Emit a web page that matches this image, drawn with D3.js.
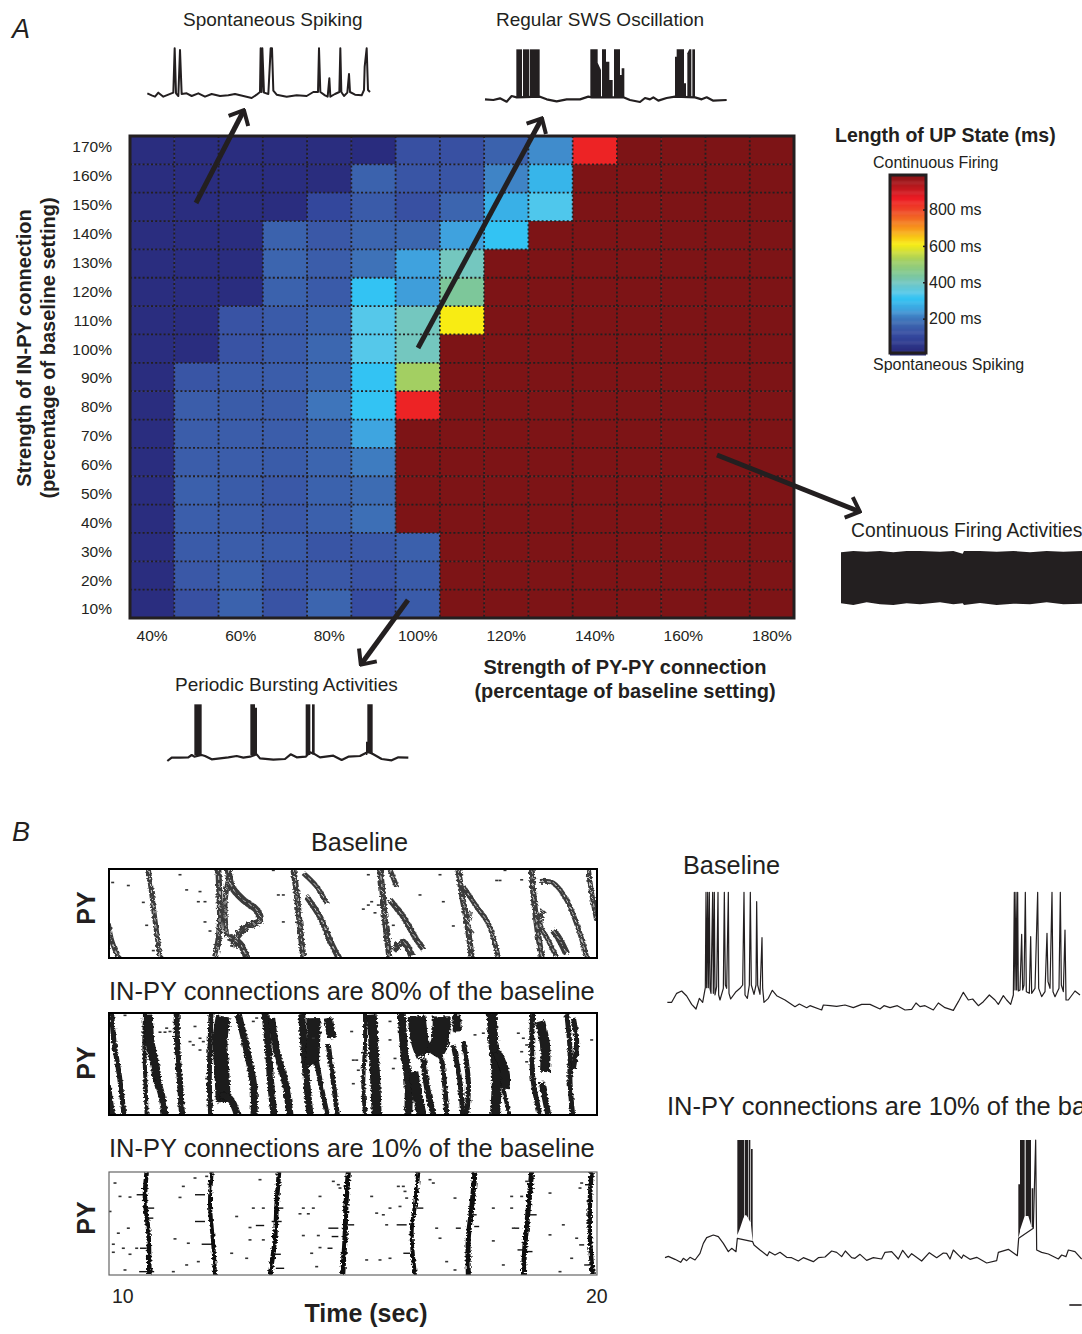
<!DOCTYPE html>
<html lang="en">
  <head>
    <meta charset="utf-8" />
    <script src="https://d3js.org/d3.v7.min.js"></script>
    <style>
      body {
        margin: 0;
        background: #fff;
      }
      svg {
        display: block;
      }
      text {
        font-family: "Liberation Sans", Arial, sans-serif;
        fill: #231f20;
      }
    </style>
  </head>
  <body>
    <svg id="fig" width="1082" height="1334"></svg>
    <script>
      // heatmap: UP state length in ms
      const pyPyLevels = [40, 50, 60, 70, 80, 90, 100, 110, 120, 130, 140, 150, 160, 170, 180];
      const inPyLevels = [170, 160, 150, 140, 130, 120, 110, 100, 90, 80, 70, 60, 50, 40, 30, 20, 10];
      const upStateMs = [
        [30, 30, 30, 30, 30, 22, 125, 125, 160, 225, 850, 1000, 1000, 1000, 1000],
        [30, 30, 30, 30, 25, 160, 135, 135, 215, 285, 1000, 1000, 1000, 1000, 1000],
        [30, 30, 30, 28, 100, 145, 125, 165, 275, 335, 1000, 1000, 1000, 1000, 1000],
        [30, 30, 28, 160, 140, 165, 170, 250, 310, 1000, 1000, 1000, 1000, 1000, 1000],
        [30, 30, 28, 165, 150, 190, 250, 400, 1000, 1000, 1000, 1000, 1000, 1000, 1000],
        [30, 30, 28, 160, 145, 310, 245, 440, 1000, 1000, 1000, 1000, 1000, 1000, 1000],
        [30, 30, 130, 145, 160, 340, 400, 610, 1000, 1000, 1000, 1000, 1000, 1000, 1000],
        [30, 30, 130, 145, 170, 340, 400, 1000, 1000, 1000, 1000, 1000, 1000, 1000, 1000],
        [30, 135, 145, 150, 170, 310, 520, 1000, 1000, 1000, 1000, 1000, 1000, 1000, 1000],
        [30, 150, 148, 150, 195, 310, 850, 1000, 1000, 1000, 1000, 1000, 1000, 1000, 1000],
        [30, 150, 150, 150, 170, 255, 1000, 1000, 1000, 1000, 1000, 1000, 1000, 1000, 1000],
        [30, 150, 150, 148, 165, 205, 1000, 1000, 1000, 1000, 1000, 1000, 1000, 1000, 1000],
        [30, 155, 148, 140, 160, 180, 1000, 1000, 1000, 1000, 1000, 1000, 1000, 1000, 1000],
        [30, 152, 150, 140, 155, 185, 1000, 1000, 1000, 1000, 1000, 1000, 1000, 1000, 1000],
        [30, 145, 150, 145, 135, 140, 155, 1000, 1000, 1000, 1000, 1000, 1000, 1000, 1000],
        [30, 140, 155, 135, 140, 130, 145, 1000, 1000, 1000, 1000, 1000, 1000, 1000, 1000],
        [30, 125, 160, 130, 165, 115, 145, 1000, 1000, 1000, 1000, 1000, 1000, 1000, 1000]
      ];
      const pyPyTicks = [40, 60, 80, 100, 120, 140, 160, 180];
      const colorbarTicks = [200, 400, 600, 800];
      const colorStops = [0, 30, 100, 125, 140, 160, 180, 200, 230, 250, 290, 310, 340, 400, 440, 520, 610, 700, 790, 860, 1000];
      const colorValues = ["#272a7b", "#2a2d7f", "#33479c", "#3850a2", "#3a58a7", "#3b62ad", "#3d6cb3", "#3e78bd", "#4090cf", "#3fa2de", "#36b8ec", "#33c3f3", "#55c8ea", "#74c7bf", "#7dc79a", "#a3cf62", "#f8ec13", "#f7941d", "#ef4a28", "#ed1c24", "#7d1416"];

      const spontaneousTrace = [[22,160],[35,166],[45,170],[55,158],[70,170],[85,164],[100,158],[104,25],[108,160],[115,168],[120,30],[125,162],[140,160],[155,168],[175,160],[195,170],[215,162],[240,168],[265,166],[285,162],[310,168],[335,174],[350,164],[360,156],[362,25],[365,156],[367,25],[372,158],[385,162],[392,25],[396,25],[400,152],[410,164],[440,170],[470,166],[500,168],[520,156],[534,156],[537,25],[541,156],[555,166],[563,170],[568,115],[571,170],[585,162],[598,156],[601,25],[604,156],[612,168],[622,158],[627,102],[630,156],[645,164],[665,166],[672,150],[674,80],[680,25],[684,150],[690,156]];
      const swsTrace = [[15,178],[40,180],[60,175],[80,185],[95,168],[110,172],[180,170],[200,178],[230,184],[260,178],[300,178],[325,170],[335,172],[430,172],[450,180],[480,186],[495,174],[510,178],[520,172],[535,182],[560,174],[585,170],[645,172],[665,178],[680,172],[700,182],[740,180]];
      const swsBursts = [
        [[109,28,172],[126,28,172]],
        [[129,28,172],[147,28,172]],
        [[149,28,172],[179,28,172]],
        [[331,28,172],[353,28,172],[353,68,172],[363,90,172]],
        [[366,28,172],[378,28,172],[378,65,172],[388,65,172],[388,120,172],[398,120,172]],
        [[402,28,172],[420,28,172],[420,105,172],[425,105,172],[425,85,172],[433,85,172]],
        [[585,50,172],[590,50,172],[590,28,172],[612,28,172],[612,130,172],[618,130,172]],
        [[622,40,172],[628,28,172],[634,28,172]],
        [[637,28,172],[645,28,172]]
      ];
      const periodicTrace = [[22,198],[35,188],[60,188],[85,187],[95,180],[103,185],[125,180],[135,183],[155,193],[180,190],[205,187],[230,183],[250,188],[270,185],[290,178],[300,190],[340,194],[375,192],[392,178],[410,187],[437,185],[450,172],[465,178],[480,187],[520,182],[545,195],[565,185],[600,183],[625,170],[640,178],[665,192],[695,196],[715,187],[745,188]];
      const periodicBursts = [
        [[103,28,180],[125,28,180]],
        [[271,28,180],[285,28,180],[285,38,180],[291,38,180]],
        [[437,28,180],[451,28,180]],
        [[456,28,178],[464,28,178]],
        [[618,140,180],[622,140,180],[622,28,175],[638,28,175]]
      ];
      const continuousBlock = [[3,22,175],[40,18,180],[80,20,172],[120,18,178],[160,22,180],[200,18,175],[240,18,178],[300,20,172],[340,18,178],[368,26,175],[372,18,180],[420,18,174],[470,20,180],[520,18,176],[570,22,178],[620,18,172],[670,20,178],[726,18,176]];
      const baselineTrace = [[22,352],[35,352],[50,325],[65,318],[80,333],[95,358],[108,372],[118,340],[128,352],[136,308],[138,22],[140,308],[143,22],[145,308],[148,22],[150,310],[153,325],[158,22],[160,325],[163,22],[165,330],[170,305],[174,22],[176,330],[180,345],[190,310],[193,22],[196,300],[200,310],[205,22],[207,325],[212,342],[228,320],[240,310],[248,300],[252,22],[255,330],[262,340],[268,300],[271,22],[274,300],[282,328],[288,300],[290,50],[293,300],[300,328],[306,158],[308,310],[312,352],[325,340],[337,316],[350,332],[375,345],[405,365],[418,357],[440,368],[450,362],[485,375],[490,360],[510,362],[530,364],[555,360],[580,368],[605,358],[630,358],[660,372],[672,362],[690,368],[712,362],[735,375],[755,373],[768,354],[780,365],[795,362],[820,375],[835,354],[855,368],[880,376],[895,350],[910,322],[925,345],[938,342],[955,362],[970,350],[988,330],[1005,345],[1015,358],[1030,332],[1040,345],[1052,358],[1060,330],[1063,22],[1065,315],[1068,22],[1070,315],[1073,22],[1075,318],[1080,315],[1085,148],[1088,315],[1092,300],[1096,22],[1099,320],[1108,325],[1112,155],[1115,325],[1125,310],[1133,22],[1136,310],[1145,335],[1155,320],[1161,145],[1164,290],[1170,310],[1176,22],[1179,320],[1185,335],[1197,310],[1201,22],[1204,300],[1210,320],[1215,135],[1218,345],[1225,345],[1245,318],[1260,330]];
      const reducedTrace = [[15,368],[25,364],[45,373],[62,382],[70,370],[80,377],[90,367],[105,375],[120,355],[130,325],[140,308],[160,300],[175,305],[190,325],[205,350],[215,340],[228,350],[232,310],[278,320],[282,330],[300,345],[322,362],[328,350],[345,360],[360,352],[380,367],[395,368],[415,378],[430,368],[460,380],[475,368],[495,366],[515,348],[530,352],[545,365],[556,348],[575,368],[585,370],[600,358],[620,376],[640,368],[665,372],[675,352],[695,350],[715,372],[728,346],[745,368],[755,356],[785,378],[808,353],[830,368],[850,354],[860,355],[870,372],[880,345],[905,370],[910,360],[930,373],[950,367],[980,384],[1010,377],[1015,352],[1045,343],[1072,362],[1076,310],[1120,280],[1127,15],[1130,345],[1145,352],[1165,357],[1195,372],[1205,360],[1218,365],[1225,345],[1245,350],[1265,372]];
      const reducedBursts = [
        [[232,15,300],[240,15,280],[250,15,250],[252,15,246]],
        [[254,15,242],[258,15,240],[264,15,248]],
        [[266,15,252],[271,15,262]],
        [[273,42,270],[278,42,320]],
        [[1075,148,310],[1080,148,290],[1080,15,285],[1094,15,243]],
        [[1097,15,243],[1105,15,243],[1113,15,270]],
        [[1115,160,275],[1120,160,280]]
      ];
      const scaleBarTrace = [[1228,510],[1265,510]];

      // rasters: [time bin, neuron row] along each population wave, plus stray spikes
      const baselineWaves = [
        { width: 5, pts: [[145,28],[155,100],[165,180],[180,290]] },
        { width: 5, pts: [[25,190],[35,240],[55,290]] },
        { width: 6, pts: [[355,28],[358,100],[360,180],[355,240],[345,290]] },
        { width: 7, pts: [[385,28],[395,80],[430,120],[470,150],[480,180],[440,200],[410,230],[400,260]] },
        { width: 7, pts: [[385,230],[420,250],[440,290]] },
        { width: 5, pts: [[385,60],[375,130],[380,230]] },
        { width: 6, pts: [[580,28],[590,100],[600,200],[610,290]] },
        { width: 5, pts: [[610,40],[650,80],[680,130]] },
        { width: 6, pts: [[620,110],[660,170],[690,240],[715,290]] },
        { width: 6, pts: [[840,28],[848,100],[855,180],[868,290]] },
        { width: 5, pts: [[870,30],[890,80]] },
        { width: 6, pts: [[870,120],[910,170],[945,230],[970,265]] },
        { width: 7, pts: [[880,270],[910,245],[935,285]] },
        { width: 6, pts: [[1075,28],[1085,100],[1100,180],[1115,290]] },
        { width: 5, pts: [[1090,80],[1130,140],[1165,190],[1195,290]] },
        { width: 3, pts: [[1115,155],[1105,190],[1120,220]] },
        { width: 6, pts: [[1295,28],[1300,100],[1310,190],[1325,290]] },
        { width: 5, pts: [[1320,65],[1360,70],[1400,120],[1440,220],[1460,290]] },
        { width: 5, pts: [[1330,150],[1320,190],[1345,240],[1370,290]] },
        { width: 7, pts: [[1360,210],[1380,240],[1400,280]] },
        { width: 5, pts: [[1465,28],[1475,100],[1490,180]] }
      ];
      const baselineDots = [[38,68],[85,77],[240,45],[260,90],[300,95],[295,125],[315,125],[130,127],[140,195],[315,185],[330,212],[520,32],[535,105],[550,105],[550,185],[805,45],[815,125],[805,135],[790,147],[825,158],[835,135],[880,195],[1020,45],[1030,125],[1060,197],[1190,62],[1200,62],[1085,45],[1215,32],[1265,60],[960,105],[160,270]];
      const midWaves = [
        { width: 5, pts: [[35,15],[42,100],[58,200],[72,318]] },
        { width: 5, pts: [[25,230],[38,318]] },
        { width: 4, pts: [[135,15],[133,110],[136,210],[140,318]] },
        { width: 9, pts: [[145,20],[150,100],[165,170],[172,220]] },
        { width: 7, pts: [[170,210],[185,260],[195,318]] },
        { width: 6, pts: [[230,15],[232,120],[240,220],[246,318]] },
        { width: 5, pts: [[333,15],[330,120],[328,220],[332,318]] },
        { width: 15, pts: [[370,25],[360,100],[365,180],[370,280]] },
        { width: 7, pts: [[415,20],[435,100],[450,170],[462,240],[462,318]] },
        { width: 7, pts: [[360,260],[390,270],[412,318]] },
        { width: 7, pts: [[495,15],[505,120],[512,220],[522,318]] },
        { width: 7, pts: [[515,30],[530,130],[555,220],[570,318]] },
        { width: 7, pts: [[605,15],[612,120],[620,220],[630,318]] },
        { width: 14, pts: [[640,30],[640,90],[635,170]] },
        { width: 9, pts: [[685,30],[695,90]] },
        { width: 5, pts: [[650,160],[665,240],[682,318]] },
        { width: 5, pts: [[685,110],[700,220],[712,318]] },
        { width: 4, pts: [[795,15],[795,110],[790,220],[795,318]] },
        { width: 10, pts: [[815,20],[820,100],[825,200],[830,318]] },
        { width: 8, pts: [[905,15],[912,120],[925,220],[925,318]] },
        { width: 18, pts: [[950,25],[960,100],[975,140]] },
        { width: 18, pts: [[1025,25],[1020,100],[1000,140]] },
        { width: 9, pts: [[1070,20],[1072,70]] },
        { width: 10, pts: [[940,190],[950,250],[965,318]] },
        { width: 6, pts: [[970,150],[980,230],[1000,318]] },
        { width: 5, pts: [[1025,150],[1035,240],[1040,318]] },
        { width: 5, pts: [[1060,110],[1080,220],[1088,318]] },
        { width: 5, pts: [[1090,100],[1105,220],[1100,318]] },
        { width: 10, pts: [[1175,15],[1180,100],[1190,200],[1185,318]] },
        { width: 9, pts: [[1190,130],[1215,190],[1215,240]] },
        { width: 4, pts: [[1210,240],[1228,318]] },
        { width: 5, pts: [[1298,15],[1295,120],[1300,220],[1320,318]] },
        { width: 10, pts: [[1320,40],[1335,110],[1335,190]] },
        { width: 6, pts: [[1325,220],[1345,318]] },
        { width: 5, pts: [[1400,15],[1410,120],[1410,220],[1418,318]] },
        { width: 5, pts: [[1420,30],[1430,100],[1420,180]] }
      ];
      const midDots = [[75,22],[180,72],[195,72],[210,70],[200,60],[285,55],[300,90],[310,100],[280,110],[300,125],[470,30],[460,40],[270,100],[755,70],[770,155],[775,185],[760,155],[870,40],[870,95],[885,150],[880,180],[1125,80],[1150,75],[1270,90],[1265,130],[1280,160],[1255,75],[1280,110],[1475,95],[235,80],[760,225],[320,210],[640,90]];
      const lowWaves = [
        { width: 4.5, pts: [[140,22],[135,100],[145,200],[148,330]] },
        { width: 4, pts: [[335,22],[330,120],[340,240],[345,330]] },
        { width: 4.5, pts: [[537,22],[530,120],[525,220],[510,330]] },
        { width: 5, pts: [[745,22],[738,120],[735,220],[728,330]] },
        { width: 4, pts: [[955,22],[945,120],[935,200],[945,330]] },
        { width: 5, pts: [[1125,22],[1115,130],[1105,220],[1105,330]] },
        { width: 5, pts: [[1295,22],[1285,130],[1275,240],[1270,330]] },
        { width: 4.5, pts: [[1475,22],[1470,100],[1470,220],[1478,330]] }
      ];
      const lowBursts = [[125,90,30],[150,130,25],[150,160,20],[130,250,20],[140,320,45],[300,90,30],[300,170,30],[320,238,30],[480,182,25],[530,170,30],[540,130,20],[530,268,25],[540,310,25],[700,190,30],[705,215,20],[690,250,15],[750,180,25],[905,180,30],[960,130,20],[920,265,20],[1075,190,15],[1130,185,15],[1120,150,20],[1250,190,15],[1300,150,20],[1265,255,25],[1290,260,15],[1460,60,10],[1445,240,15],[1460,300,15]];
      const lowDots = [[45,55],[90,97],[60,95],[30,140],[85,190],[55,205],[40,238],[70,250],[110,250],[40,262],[90,268],[75,315],[240,98],[250,65],[285,40],[320,35],[265,235],[225,222],[295,290],[260,300],[220,320],[395,265],[410,155],[440,280],[450,225],[480,45],[460,130],[490,130],[450,188],[490,225],[610,130],[640,130],[600,147],[625,147],[610,212],[655,212],[635,265],[660,248],[650,305],[700,50],[720,70],[715,60],[660,95],[815,95],[830,145],[850,150],[870,130],[900,125],[895,65],[910,65],[915,80],[860,180],[800,285],[840,285],[870,280],[920,100],[1065,100],[1040,290],[1065,315],[1010,190],[1020,220],[1180,228],[1210,300],[1235,95],[1265,95],[1280,50],[1235,130],[1240,190],[1350,85],[1390,180],[1350,210],[1445,55],[1430,220],[1415,280],[1380,320],[1440,70],[1000,55],[990,45],[1180,130]];

      const ink = "#231f20";
      const svg = d3.select("#fig");
      const defs = svg.append("defs");

      // arrow head
      defs
        .append("marker")
        .attr("id", "head")
        .attr("viewBox", "-10 -7 12 14")
        .attr("markerUnits", "userSpaceOnUse")
        .attr("markerWidth", 24)
        .attr("markerHeight", 28)
        .attr("refX", 0)
        .attr("refY", 0)
        .attr("orient", "auto")
        .append("path")
        .attr("d", "M-5,-5.5 L1,0 L-5,5.5")
        .attr("fill", "none")
        .attr("stroke", ink)
        .attr("stroke-width", 2);

      // rough edge for the raster bands
      const rough = defs.append("filter").attr("id", "rough").attr("x", "-5%").attr("y", "-5%").attr("width", "110%").attr("height", "110%");
      rough.append("feTurbulence").attr("type", "fractalNoise").attr("baseFrequency", "0.35 0.5").attr("numOctaves", 2).attr("seed", 4).attr("result", "n");
      rough.append("feDisplacementMap").attr("in", "SourceGraphic").attr("in2", "n").attr("scale", 5);

      function label(txt, x, y, size, opts = {}) {
        const t = svg
          .append("text")
          .attr("x", x)
          .attr("y", y)
          .attr("font-size", size)
          .attr("text-anchor", opts.anchor || "start")
          .attr("font-weight", opts.bold ? "bold" : null)
          .attr("font-style", opts.italic ? "italic" : null)
          .text(txt);
        if (opts.rotate) t.attr("transform", `rotate(-90,${x},${y})`);
        return t;
      }

      // ---- panel A heatmap ----
      const plot = { left: 130, right: 794, top: 136, bottom: 618 };
      const xBand = d3.scaleBand().domain(pyPyLevels).range([plot.left, plot.right]);
      const yBand = d3.scaleBand().domain(inPyLevels).range([plot.top, plot.bottom]);
      const color = d3.scaleLinear().domain(colorStops).range(colorValues);

      const heat = svg.append("g");
      heat
        .selectAll("g")
        .data(upStateMs)
        .join("g")
        .attr("transform", (d, i) => `translate(0,${yBand(inPyLevels[i])})`)
        .selectAll("rect")
        .data((d) => d)
        .join("rect")
        .attr("x", (d, i) => xBand(pyPyLevels[i]))
        .attr("width", xBand.bandwidth() + 0.5)
        .attr("height", yBand.bandwidth() + 0.5)
        .attr("fill", (d) => color(d));

      // dotted cell grid
      heat
        .selectAll("line.v")
        .data(pyPyLevels.slice(1))
        .join("line")
        .attr("class", "v")
        .attr("x1", (d) => xBand(d))
        .attr("x2", (d) => xBand(d))
        .attr("y1", plot.top)
        .attr("y2", plot.bottom)
        .attr("stroke", ink)
        .attr("stroke-width", 1.8)
        .attr("stroke-dasharray", "2,2.2");
      heat
        .selectAll("line.h")
        .data(inPyLevels.slice(1))
        .join("line")
        .attr("class", "h")
        .attr("x1", plot.left)
        .attr("x2", plot.right)
        .attr("y1", (d) => yBand(d))
        .attr("y2", (d) => yBand(d))
        .attr("stroke", ink)
        .attr("stroke-width", 1.8)
        .attr("stroke-dasharray", "2,2.2");
      heat
        .append("rect")
        .attr("x", plot.left)
        .attr("y", plot.top)
        .attr("width", plot.right - plot.left)
        .attr("height", plot.bottom - plot.top)
        .attr("fill", "none")
        .attr("stroke", ink)
        .attr("stroke-width", 3);

      // axes, tick labels only
      const yLabels = d3.scalePoint().domain(inPyLevels).range([147, 609]);
      const yAxis = svg
        .append("g")
        .attr("transform", "translate(112,0)")
        .call(d3.axisLeft(yLabels).tickSize(0).tickPadding(0).tickFormat((d) => d + "%"));
      const xAxis = svg
        .append("g")
        .attr("transform", "translate(0,630)")
        .call(d3.axisBottom(xBand).tickValues(pyPyTicks).tickSize(0).tickPadding(0).tickFormat((d) => d + "%"));
      [yAxis, xAxis].forEach((a) => {
        a.select(".domain").remove();
        a.selectAll("text").attr("font-size", 15.5).attr("font-family", '"Liberation Sans", Arial, sans-serif').attr("fill", ink);
      });

      label("Strength of IN-PY connection", 31, 348, 20, { bold: true, anchor: "middle", rotate: true });
      label("(percentage of baseline setting)", 55, 348, 20, { bold: true, anchor: "middle", rotate: true });
      label("Strength of PY-PY connection", 625, 674, 20, { bold: true, anchor: "middle" });
      label("(percentage of baseline setting)", 625, 698, 20, { bold: true, anchor: "middle" });

      // ---- colorbar ----
      label("Length of UP State (ms)", 835, 142, 19.5, { bold: true });
      label("Continuous Firing", 873, 168, 16);
      label("Spontaneous Spiking", 873, 370, 16);
      const barY = d3.scaleLinear().domain([0, 990]).range([355, 175]);
      svg
        .append("g")
        .selectAll("rect")
        .data(d3.range(0, 990, 5))
        .join("rect")
        .attr("x", 890)
        .attr("width", 36)
        .attr("y", (d) => barY(d + 5))
        .attr("height", barY(0) - barY(5) + 0.5)
        .attr("fill", (d) => color(d));
      svg
        .append("rect")
        .attr("x", 890)
        .attr("y", 175)
        .attr("width", 36)
        .attr("height", 178)
        .attr("fill", "none")
        .attr("stroke", ink)
        .attr("stroke-width", 3);
      const barAxis = svg
        .append("g")
        .attr("transform", "translate(926,0)")
        .call(d3.axisRight(barY).tickValues(colorbarTicks).tickSize(0).tickPadding(3).tickFormat((d) => d + " ms"));
      barAxis.select(".domain").remove();
      barAxis.selectAll("text").attr("font-size", 16).attr("font-family", '"Liberation Sans", Arial, sans-serif').attr("fill", ink);
      barAxis
        .selectAll("g.tick")
        .append("line")
        .attr("x1", -3)
        .attr("x2", 1)
        .attr("stroke", ink)
        .attr("stroke-width", 1.5);

      // ---- voltage traces ----
      // region = page box the readout units were taken from, 3 units per pixel
      function region(x0, y0, w, h) {
        return {
          x: d3.scaleLinear().domain([0, w * 3]).range([x0, x0 + w]),
          y: d3.scaleLinear().domain([0, h * 3]).range([y0, y0 + h])
        };
      }
      function drawTrace(r, pts, width) {
        const line = d3.line().x((d) => r.x(d[0])).y((d) => r.y(d[1]));
        svg
          .append("path")
          .attr("d", line(pts))
          .attr("fill", "none")
          .attr("stroke", ink)
          .attr("stroke-width", width)
          .attr("stroke-linejoin", "round");
      }
      function drawBursts(r, list) {
        const area = d3.area().x((d) => r.x(d[0])).y0((d) => r.y(d[2])).y1((d) => r.y(d[1]));
        svg
          .append("g")
          .selectAll("path")
          .data(list)
          .join("path")
          .attr("d", area)
          .attr("fill", ink);
      }

      label("Spontaneous Spiking", 183, 26, 19);
      drawTrace(region(140, 40, 240, 70), spontaneousTrace, 2);
      label("Regular SWS Oscillation", 496, 26, 19);
      const swsRegion = region(480, 40, 250, 70);
      drawTrace(swsRegion, swsTrace, 2.2);
      drawBursts(swsRegion, swsBursts);
      label("Periodic Bursting Activities", 175, 691, 19);
      const periodicRegion = region(160, 695, 255, 75);
      drawTrace(periodicRegion, periodicTrace, 2.2);
      drawBursts(periodicRegion, periodicBursts);
      label("Continuous Firing Activities", 851, 537, 19.3);
      drawBursts(region(840, 545, 242, 65), [continuousBlock]);

      // ---- arrows ----
      const arrows = [
        [196, 203, 243, 112],
        [418, 348, 541, 120],
        [717, 455, 858, 511],
        [408, 600, 362, 663]
      ];
      svg
        .append("g")
        .selectAll("line")
        .data(arrows)
        .join("line")
        .attr("x1", (d) => d[0])
        .attr("y1", (d) => d[1])
        .attr("x2", (d) => d[2])
        .attr("y2", (d) => d[3])
        .attr("stroke", ink)
        .attr("stroke-width", 5)
        .attr("marker-end", "url(#head)");

      label("A", 12, 38, 27, { italic: true });
      label("B", 12, 841, 27, { italic: true });

      // ---- panel B rasters ----
      function drawRaster(box, cfg) {
        const x = d3.scaleLinear().domain(cfg.bins).range([box.left, box.right]);
        const y = d3.scaleLinear().domain(cfg.rows).range([box.top, box.bottom]);
        const clipId = "clip" + box.top;
        defs
          .append("clipPath")
          .attr("id", clipId)
          .append("rect")
          .attr("x", box.left)
          .attr("y", box.top)
          .attr("width", box.right - box.left)
          .attr("height", box.bottom - box.top);
        const g = svg.append("g").attr("clip-path", `url(#${clipId})`);
        const inner = g.append("g").attr("filter", "url(#rough)");
        const line = d3.line().x((d) => x(d[0])).y((d) => y(d[1])).curve(d3.curveCatmullRom);
        inner
          .selectAll("path.wave")
          .data(cfg.waves)
          .join("path")
          .attr("class", "wave")
          .attr("d", (d) => line(d.pts))
          .attr("fill", "none")
          .attr("stroke", cfg.ink)
          .attr("stroke-width", (d) => d.width);
        if (cfg.texture) {
          inner
            .selectAll("path.tex")
            .data(cfg.waves)
            .join("path")
            .attr("class", "tex")
            .attr("d", (d) => line(d.pts))
            .attr("fill", "none")
            .attr("stroke", "#fff")
            .attr("stroke-opacity", 0.75)
            .attr("stroke-width", 1)
            .attr("stroke-dasharray", "4,3");
        }
        if (cfg.bursts) {
          g.selectAll("line.burst")
            .data(cfg.bursts)
            .join("line")
            .attr("class", "burst")
            .attr("x1", (d) => x(d[0] - d[2] / 2))
            .attr("x2", (d) => x(d[0] + d[2] / 2))
            .attr("y1", (d) => y(d[1]))
            .attr("y2", (d) => y(d[1]))
            .attr("stroke", "#111")
            .attr("stroke-width", 1.4);
        }
        g.selectAll("rect.spike")
          .data(cfg.dots)
          .join("rect")
          .attr("class", "spike")
          .attr("x", (d) => x(d[0]) - 1.5)
          .attr("y", (d) => y(d[1]) - 0.8)
          .attr("width", 3)
          .attr("height", 1.6)
          .attr("fill", "#333");
        svg
          .append("rect")
          .attr("x", box.left)
          .attr("y", box.top)
          .attr("width", box.right - box.left)
          .attr("height", box.bottom - box.top)
          .attr("fill", "none")
          .attr("stroke", cfg.border)
          .attr("stroke-width", cfg.borderWidth);
      }

      drawRaster(
        { left: 109, right: 597, top: 869, bottom: 958 },
        { bins: [27, 1491], rows: [28, 292], waves: baselineWaves, dots: baselineDots, ink: "#3a3a3a", texture: true, border: "#000", borderWidth: 2 }
      );
      drawRaster(
        { left: 109, right: 597, top: 1013, bottom: 1115 },
        { bins: [27, 1491], rows: [15, 318], waves: midWaves, dots: midDots, ink: "#1a1a1a", border: "#000", borderWidth: 2 }
      );
      drawRaster(
        { left: 109, right: 597, top: 1172, bottom: 1275 },
        { bins: [27, 1491], rows: [22, 330], waves: lowWaves, bursts: lowBursts, dots: lowDots, ink: "#0a0a0a", border: "#666", borderWidth: 1.2 }
      );

      label("Baseline", 359.5, 851, 25.3, { anchor: "middle" });
      label("IN-PY connections are 80% of the baseline", 109, 1000, 25.5);
      label("IN-PY connections are 10% of the baseline", 109, 1157, 25.5);
      label("PY", 95, 908, 25, { bold: true, anchor: "middle", rotate: true });
      label("PY", 95, 1063, 25, { bold: true, anchor: "middle", rotate: true });
      label("PY", 95, 1218, 25, { bold: true, anchor: "middle", rotate: true });
      label("10", 112, 1303, 19.5);
      label("20", 586, 1303, 19.5);
      label("Time (sec)", 366, 1322, 25, { bold: true, anchor: "middle" });

      // ---- panel B right traces ----
      label("Baseline", 683, 874, 25.3);
      drawTrace(region(660, 885, 422, 130), baselineTrace, 1.2);
      label("IN-PY connections are 10% of the baseline", 667, 1115, 25.5);
      const reducedRegion = region(660, 1135, 422, 175);
      drawTrace(reducedRegion, reducedTrace, 1.2);
      drawBursts(reducedRegion, reducedBursts);
      drawTrace(reducedRegion, scaleBarTrace, 1.6);
    </script>
  </body>
</html>
